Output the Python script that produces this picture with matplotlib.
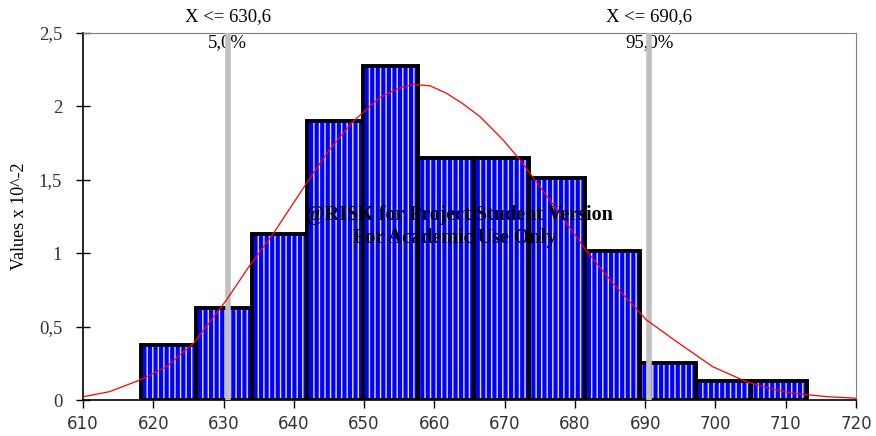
import matplotlib.pyplot as plt

# histogram (values x 10^-2)
bin_edges = [618.2, 626.1, 634.0, 641.9, 649.8, 657.7, 665.6, 673.5, 681.4, 689.3, 697.2, 705.1, 713.0]
bin_heights = [0.375, 0.627, 1.13, 1.90, 2.275, 1.65, 1.65, 1.51, 1.015, 0.252, 0.13, 0.13]

# fitted density curve
curve_x = [610.0, 613.8, 618.1, 621.9, 625.8, 630.4, 633.5, 637.1, 641.8, 645.0, 648.4, 652.2,
           655.0, 657.0, 659.4, 661.7, 664.0, 666.5, 669.8, 672.2, 676.0, 681.6, 685.4, 690.2,
           694.4, 699.6, 704.4, 708.0, 711.0, 715.8, 720.0]
curve_y = [0.022, 0.057, 0.136, 0.227, 0.39, 0.68, 0.90, 1.135, 1.476, 1.70, 1.896, 2.06,
           2.125, 2.15, 2.14, 2.09, 2.02, 1.93, 1.77, 1.635, 1.39, 1.02, 0.795, 0.545,
           0.40, 0.227, 0.125, 0.075, 0.046, 0.023, 0.012]

pct_values = [630.6, 690.6]
pct_top = ["X <= 630,6", "X <= 690,6"]
pct_bottom = ["5,0%", "95,0%"]

watermark = ["@RISK for Project Student Version", "For Academic Use Only"]

x_ticks = [610, 620, 630, 640, 650, 660, 670, 680, 690, 700, 710, 720]
y_ticks = [0, 0.5, 1, 1.5, 2, 2.5]
y_tick_labels = ["0", "0,5", "1", "1,5", "2", "2,5"]

plt.rcParams["hatch.color"] = "#e0e0ff"
plt.rcParams["hatch.linewidth"] = 1.0

fig = plt.figure(figsize=(8.76, 4.36), dpi=100)
ax = fig.add_axes([83 / 876, 36 / 436, (856 - 83) / 876, (400 - 33) / 436])

widths = [b - a for a, b in zip(bin_edges[:-1], bin_edges[1:])]
ax.bar(bin_edges[:-1], bin_heights, width=widths, align="edge", color="#0000ff",
       hatch="|||", edgecolor="#e0e0ff", linewidth=0, zorder=2)
ax.bar(bin_edges[:-1], bin_heights, width=widths, align="edge", fill=False,
       edgecolor="black", linewidth=2.8, zorder=3)

for v, t1, t2 in zip(pct_values, pct_top, pct_bottom):
    ax.axvline(v, color="#c0c0c0", linewidth=4, zorder=4)
    ax.text(v, 2.555, t1, ha="center", va="bottom", fontsize=13.5,
            family="Liberation Serif")
    ax.text(v, 2.49, t2, ha="center", va="top", fontsize=13.5,
            family="Liberation Serif")

ax.plot(curve_x, curve_y, color="#ff0000", linewidth=0.9, zorder=5)

ax.text(663.6, 1.26, watermark[0], ha="center", va="center",
        fontsize=14.5, fontweight="bold", family="Liberation Serif", zorder=6)
ax.text(662.9, 1.105, watermark[1], ha="center", va="center",
        fontsize=14.5, fontweight="bold", family="Liberation Serif", zorder=6)

ax.set_xlim(610, 720)
ax.set_ylim(0, 2.5)
ax.set_xticks(x_ticks)
ax.set_xticklabels([str(t) for t in x_ticks], fontsize=12, family="DejaVu Sans", color="#333333")
ax.set_yticks(y_ticks)
ax.set_yticklabels(y_tick_labels, fontsize=13.5, family="Liberation Serif", color="#333333")
ax.tick_params(axis="y", direction="inout", length=10, width=1, pad=10)
ax.tick_params(axis="x", direction="out", length=6, width=1, pad=5)

ax.spines["top"].set_color("#808080")
ax.spines["right"].set_color("#808080")
ax.spines["left"].set_linewidth(1.2)
ax.spines["bottom"].set_linewidth(1.2)

ax.set_ylabel("Values x 10^-2", fontsize=13, family="Liberation Serif", labelpad=8)

fig.savefig("out.png", dpi=100)
